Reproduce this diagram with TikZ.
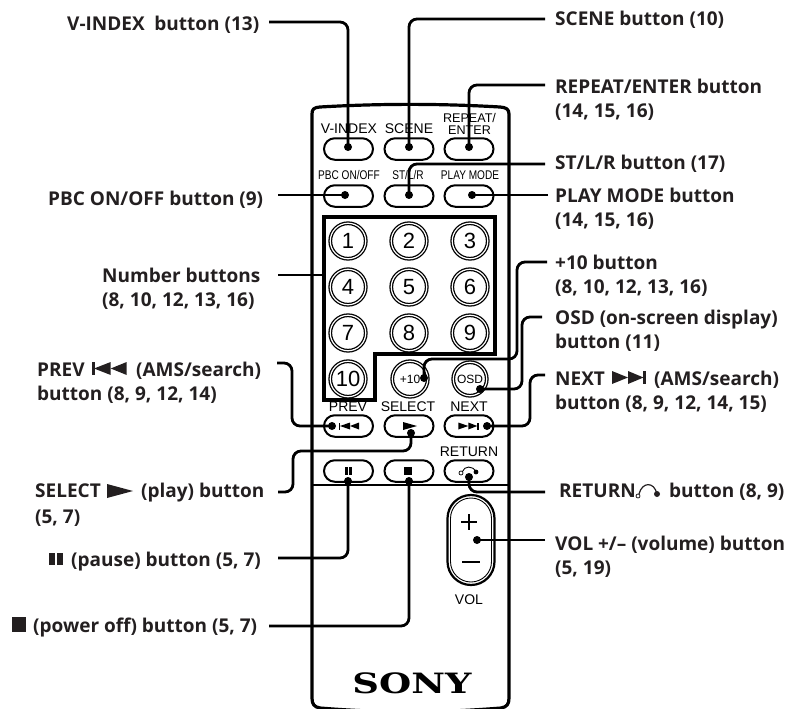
\documentclass[tikz,border=0pt]{standalone}
\usepackage{fontspec}
\usepackage{graphicx}
\setmainfont{Open Sans}
\newfontfamily\btnfont{Liberation Sans}
\newfontfamily\sonyfont{DejaVu Serif}
\usetikzlibrary{shapes.misc}
\definecolor{ink}{HTML}{231F20}
\newcommand{\cond}[1]{\scalebox{.8}[1]{#1}}
\tikzset{
  lbl/.style={inner sep=0pt,anchor=base west,align=left,text=ink,font=\bfseries\fontsize{19}{24}\selectfont},
  btn/.style={draw=black,line width=2pt,rounded rectangle,minimum width=49pt,minimum height=21.5pt,inner sep=0pt},
  caption/.style={inner sep=0pt,anchor=base,align=center,text=black,font=\btnfont\fontsize{14}{13}\selectfont},
  smallcap/.style={inner sep=0pt,anchor=base,text=black,font=\btnfont\fontsize{12.6}{13}\selectfont},
  ring/.style={circle,draw=black,line width=1.3pt,minimum size=35.5pt,inner sep=0pt,double=white,double distance=1.2pt},
  digit/.style={font=\btnfont\fontsize{22}{21}\selectfont},
  conn/.style={draw=black,line width=2.8pt,rounded corners=8pt},
  dot/.style={circle,fill=black,inner sep=0pt,minimum size=8pt},
  sym/.style={fill=black,draw=none}
}
\begin{document}
\begin{tikzpicture}[x=1pt,y=-1pt]
\useasboundingbox (0,0) rectangle (793,709);
% body
\draw[line width=3.2pt,line join=round] (312,120) -- (312,114) .. controls (312,109) and (314,107.5) .. (320,107)
  .. controls (380,103.5) and (440,103.5) .. (500,107) .. controls (506,107.5) and (509,109) .. (509,114)
  -- (509,698) .. controls (509,704) and (507,707) .. (501,708) .. controls (440,713) and (380,713) .. (320,708)
  .. controls (314,707) and (312,704) .. (312,698) -- cycle;
\draw[line width=1.3pt] (312,485) -- (509,485);
% captions
\node[caption] (cV) at (349,133) {V-INDEX};
\node[caption] (cS) at (409,133) {SCENE};
\node[smallcap,align=center] (cR) at (469.5,135) {REPEAT/\\ENTER};
\node[smallcap] (cP) at (349,179) {\cond{PBC ON/OFF}};
\node[smallcap] (cL) at (408,179) {\cond{ST/L/R}};
\node[smallcap] (cM) at (470,179) {\cond{PLAY MODE}};
\node[caption] (cPrev) at (348,411) {PREV};
\node[caption] (cSel) at (408,411) {SELECT};
\node[caption] (cNext) at (469,411) {NEXT};
\node[caption] (cRet) at (469,456) {RETURN};
\node[caption] (cVol) at (469,604) {VOL};
% buttons
\node[btn] (bV) at (348.5,149) {};
\node[btn] (bS) at (409,149) {};
\node[btn] (bR) at (469,149) {};
\node[btn] (bP) at (348.5,196) {};
\node[btn] (bL) at (409,196) {};
\node[btn] (bM) at (469,196) {};
\node[btn] (bPrev) at (348.5,426) {};
\node[btn] (bSel) at (409,426) {};
\node[btn] (bNext) at (469,426) {};
\node[btn] (bPause) at (348.5,471) {};
\node[btn] (bStop) at (409,471) {};
\node[btn] (bRet) at (469,471) {};
% number panel
\draw[line width=3.3pt,line join=miter] (324,217) -- (495,217) -- (495,354) -- (375,354) -- (375,400) -- (324,400) -- cycle;
\coordinate (panelW) at (324,275);
% number rings
\foreach \n/\cx/\cy in {1/348/241,2/409/241,3/470/241,4/348/287,5/409/287,6/470/287,7/348/333,8/409/333,9/470/333,10/348/379}{
  \node[ring,digit] (n\n) at (\cx,\cy) {\n};
}
\node[ring,font=\btnfont\fontsize{12}{12}\selectfont] (nPlus) at (410,379) {+10};
\node[ring,font=\btnfont\fontsize{12}{12}\selectfont,minimum size=33.5pt] (nOsd) at (470,379) {OSD};
% icons on buttons
\fill (338.5,422.5) rectangle (340,429.5);
\fill (340,426) -- (350,422.5) -- (350,429.5) -- cycle;
\fill (350,426) -- (359,422.5) -- (359,429.5) -- cycle;
\fill (403,422) -- (417,426) -- (403,430) -- cycle;
\fill (458.3,422.5) -- (468.3,426) -- (458.3,429.5) -- cycle;
\fill (468.3,422.5) -- (477.3,426) -- (468.3,429.5) -- cycle;
\fill (477.3,422.5) rectangle (479.3,429.5);
\fill (345,467) rectangle (347.5,475);
\fill (349,467) rectangle (351.5,475);
\fill (404.3,467) rectangle (412.3,475);
\draw[line width=.7pt] (461,473) circle (2);
\draw[line width=.9pt] (462.5,471.5) .. controls (464,466) and (473,465) .. (476,472);
\fill (476,472) circle (2.4);
% volume
\node[draw=black,line width=2.2pt,rounded rectangle,rotate=90,minimum width=90pt,minimum height=47pt,inner sep=0pt] (bVol) at (471,540) {};
\node[draw=black,line width=.9pt,rounded rectangle,rotate=90,minimum width=84pt,minimum height=41pt,inner sep=0pt] (bVolIn) at (471,540) {};
\draw[line width=2.6pt] (461,522) -- (477,522) (469,514) -- (469,530);
\draw[line width=2.6pt] (462,562) -- (480,562);
% logo
\node[inner sep=0pt,anchor=base,font=\sonyfont\bfseries\fontsize{28}{28}\selectfont] (logo) at (412,693.5) {\scalebox{1.32}[1]{SONY}};
% labels
\node[lbl] (tV) at (67,31) {V-INDEX\hspace{.25em} button (13)};
\node[lbl] (tP) at (48,205) {PBC ON/OFF button (9)};
\node[lbl] (tN) at (102,306) {Number buttons\\(8, 10, 12, 13, 16)};
\node[lbl] (tPrev) at (37,400) {\makebox[99pt][l]{PREV}(AMS/search)\\button (8, 9, 12, 14)};
\node[lbl,font=\bfseries\fontsize{19}{26}\selectfont] (tSel) at (35,523) {\makebox[106pt][l]{SELECT}(play) button\\(5, 7)};
\node[lbl] (tPause) at (71,566) {(pause) button (5, 7)};
\node[lbl] (tStop) at (33,632) {(power off) button (5, 7)};
\node[lbl] (tS) at (555,26) {SCENE button (10)};
\node[lbl] (tR) at (555,117.5) {REPEAT/ENTER button\\(14, 15, 16)};
\node[lbl] (tL) at (555,169) {ST/L/R button (17)};
\node[lbl] (tM) at (555,226) {PLAY MODE button\\(14, 15, 16)};
\node[lbl] (tPlus) at (555,293) {+10 button\\(8, 10, 12, 13, 16)};
\node[lbl] (tOsd) at (555,348) {OSD (on-screen display)\\button (11)};
\node[lbl] (tNext) at (555,409) {\makebox[99pt][l]{NEXT}(AMS/search)\\button (8, 9, 12, 14, 15)};
\node[lbl] (tRet) at (559,497) {\makebox[110pt][l]{RETURN}button (8, 9)};
\node[lbl] (tVol) at (555,574) {VOL +/-- (volume) button\\(5, 19)};
% label symbols
\fill[ink] (92,362) rectangle (94.5,375);
\fill[ink] (94,368.5) -- (110.7,362) -- (110.7,375) -- cycle;
\fill[ink] (110.7,368.5) -- (126.7,362) -- (126.7,375) -- cycle;
\fill[ink] (107,484) -- (133,491) -- (107,498) -- cycle;
\fill[ink] (612,371) -- (628,377.5) -- (612,384) -- cycle;
\fill[ink] (628,371) -- (643.5,377.5) -- (628,384) -- cycle;
\fill[ink] (643,371) rectangle (646,384);
\fill[ink] (49,553) rectangle (54.5,565);
\fill[ink] (57,553) rectangle (63,565);
\fill[ink] (12,617) rectangle (26,632);
\draw[ink,line width=.8pt] (638,496) circle (2);
\draw[ink,line width=1.2pt] (639,494) .. controls (642,482) and (654,481) .. (657,494);
\fill[ink] (657,494) circle (3);
% connector ends
\coordinate (eV) at (269,22);
\coordinate (eP) at (278,195);
\coordinate (eN) at (278,275);
\coordinate (ePrev) at (277,363);
\coordinate (eSel) at (278,492);
\coordinate (ePause) at (278,558);
\coordinate (eStop) at (269,626);
\coordinate (eS) at (545,19);
\coordinate (eR) at (545,85);
\coordinate (eL) at (545,164);
\coordinate (eM) at (548,195);
\coordinate (ePlus) at (547,262);
\coordinate (eOsd) at (542,317);
\coordinate (eNext) at (545,375);
\coordinate (eRet) at (545,492);
\coordinate (eVol) at (545,540);
% dots
\node[dot] (dV) at (348,147) {};
\node[dot] (dS) at (409,147) {};
\node[dot] (dR) at (469,147) {};
\node[dot] (dP) at (345,195) {};
\node[dot] (dL) at (409,195) {};
\node[dot] (dM) at (472,195) {};
\node[dot] (dPrev) at (332,426) {};
\node[dot] (dSel) at (411,433) {};
\node[dot] (dNext) at (487,426) {};
\node[dot] (dPlus) at (424,378) {};
\node[dot] (dOsd) at (480,389) {};
\node[dot] (dPause) at (348,481) {};
\node[dot] (dStop) at (409,481) {};
\node[dot] (dRet) at (469,477) {};
\node[dot] (dVol) at (477,540) {};
% connectors
\draw[conn] (eV) -| (dV.center);
\draw[conn] (eS) -| (dS.center);
\draw[conn] (eR) -| (dR.center);
\draw[conn] (eL) -| (dL.center);
\draw[conn] (eM) -- (dM.center);
\draw[conn] (eP) -- (dP.center);
\draw[conn] (eN) -- (panelW);
\draw[conn] (eVol) -- (dVol.center);
\draw[conn] (ePrev) -- (292,363) -- (292,426) -- (dPrev.center);
\draw[conn] (eSel) -- (293,492) -- (293,451) -- (411,451) -- (dSel.center);
\draw[conn] (ePause) -| (dPause.center);
\draw[conn] (eStop) -| (dStop.center);
\draw[conn] (ePlus) -- (517,262) -- (517,359) -- (424,359) -- (dPlus.center);
\draw[conn] (eOsd) -- (522,317) -- (522,389) -- (dOsd.center);
\draw[conn] (eNext) -- (530,375) -- (530,426) -- (dNext.center);
\draw[conn] (eRet) -| (dRet.center);
\end{tikzpicture}
\end{document}
